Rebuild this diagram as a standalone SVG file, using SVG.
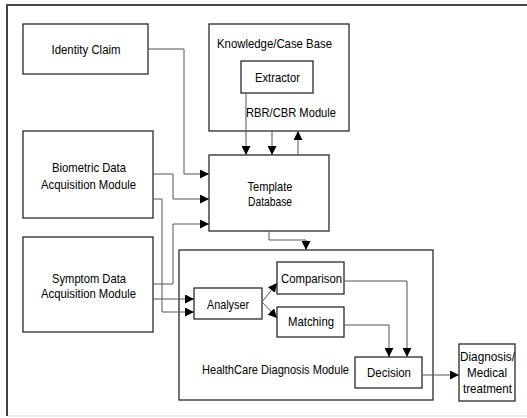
<svg xmlns="http://www.w3.org/2000/svg" width="527" height="418" viewBox="0 0 527 418">
<style>
.box{fill:#fff;stroke:#2a2a2a;stroke-width:1.3}
.c{fill:none;stroke:#555;stroke-width:1}
text{font-family:"Liberation Sans",Arial,sans-serif;font-size:13px;fill:#000}
.m{text-anchor:middle}
.s{font-size:12px}
</style>
<defs>
<marker id="ah" markerUnits="userSpaceOnUse" markerWidth="9" markerHeight="9" viewBox="0 0 9 9" refX="9" refY="4.5" orient="auto">
<path d="M0,0 L9,4.5 L0,9 Z" fill="#000"/>
</marker>
</defs>
<rect width="527" height="418" fill="#fff"/>
<g id="frame">
<path d="M7,416 V5 H527" fill="none" stroke="#444" stroke-width="2"/>
<path d="M8,416 H527" fill="none" stroke="#ddd" stroke-width="1"/>
</g>
<g id="identity">
<rect class="box" x="23" y="24" width="125" height="50"/>
<text x="86" y="54" class="m" textLength="69" lengthAdjust="spacingAndGlyphs">Identity Claim</text>
</g>
<g id="knowledge">
<rect class="box" x="209" y="24" width="140" height="107"/>
<text x="217" y="48" textLength="115" lengthAdjust="spacingAndGlyphs">Knowledge/Case Base</text>
<text x="246" y="117" textLength="90" lengthAdjust="spacingAndGlyphs">RBR/CBR Module</text>
</g>
<g id="extractor">
<rect class="box" x="241" y="61" width="72" height="32"/>
<text x="277.5" y="82" class="m" textLength="45" lengthAdjust="spacingAndGlyphs">Extractor</text>
</g>
<g id="template">
<rect class="box" x="209" y="155" width="120" height="76"/>
<text x="270" y="191" class="m" textLength="45" lengthAdjust="spacingAndGlyphs">Template</text>
<text x="270" y="206" class="m" textLength="44" lengthAdjust="spacingAndGlyphs">Database</text>
</g>
<g id="biometric">
<rect class="box" x="23" y="131" width="130" height="87"/>
<text x="89" y="171.5" class="m" textLength="74" lengthAdjust="spacingAndGlyphs">Biometric Data</text>
<text x="88.5" y="189" class="m" textLength="95" lengthAdjust="spacingAndGlyphs">Acquisition Module</text>
</g>
<g id="symptom">
<rect class="box" x="23" y="237" width="130" height="95"/>
<text x="89" y="282.5" class="m" textLength="74" lengthAdjust="spacingAndGlyphs">Symptom Data</text>
<text x="88.5" y="298" class="m" textLength="95" lengthAdjust="spacingAndGlyphs">Acquisition Module</text>
</g>
<g id="healthcare">
<rect class="box" x="179" y="250" width="254" height="150"/>
<text x="202" y="374" class="s" textLength="147" lengthAdjust="spacingAndGlyphs">HealthCare Diagnosis Module</text>
</g>
<g id="analyser">
<rect class="box" x="194" y="288" width="68" height="31"/>
<text x="228" y="309" class="m" textLength="42" lengthAdjust="spacingAndGlyphs">Analyser</text>
</g>
<g id="comparison">
<rect class="box" x="277" y="262" width="67" height="32"/>
<text x="311.5" y="283" class="m" textLength="61" lengthAdjust="spacingAndGlyphs">Comparison</text>
</g>
<g id="matching">
<rect class="box" x="277" y="307" width="67" height="30"/>
<text x="311" y="326" class="m" textLength="46" lengthAdjust="spacingAndGlyphs">Matching</text>
</g>
<g id="decision">
<rect class="box" x="355" y="357" width="67" height="31"/>
<text x="389" y="377" class="m" textLength="44" lengthAdjust="spacingAndGlyphs">Decision</text>
</g>
<g id="diagnosis">
<rect class="box" x="459" y="344" width="56" height="57"/>
<text x="487.5" y="361" class="m" textLength="55" lengthAdjust="spacingAndGlyphs">Diagnosis/</text>
<text x="487" y="377" class="m" textLength="40" lengthAdjust="spacingAndGlyphs">Medical</text>
<text x="487.5" y="393" class="m" textLength="49" lengthAdjust="spacingAndGlyphs">treatment</text>
</g>
<g id="connectors">
<path class="c" d="M148,49 H184 V174 H209" marker-end="url(#ah)"/>
<path class="c" d="M153,174 H173 V199 H209" marker-end="url(#ah)"/>
<path class="c" d="M153,199 H162 V312 H194" marker-end="url(#ah)"/>
<path class="c" d="M153,284 H173 V224 H209" marker-end="url(#ah)"/>
<path class="c" d="M153,299 H194" marker-end="url(#ah)"/>
<path class="c" d="M246,93 V155" marker-end="url(#ah)"/>
<path class="c" d="M272,131 V155" marker-end="url(#ah)"/>
<path class="c" d="M298,155 V131" marker-end="url(#ah)"/>
<path class="c" d="M269,231 V240 H306 V250" marker-end="url(#ah)"/>
<path class="c" d="M262,302 L277,283" marker-end="url(#ah)"/>
<path class="c" d="M262,302 L277,318" marker-end="url(#ah)"/>
<path class="c" d="M344,281 H407 V357" marker-end="url(#ah)"/>
<path class="c" d="M344,325 H389 V357" marker-end="url(#ah)"/>
<path class="c" d="M422,375 H459" marker-end="url(#ah)"/>
</g>
</svg>
